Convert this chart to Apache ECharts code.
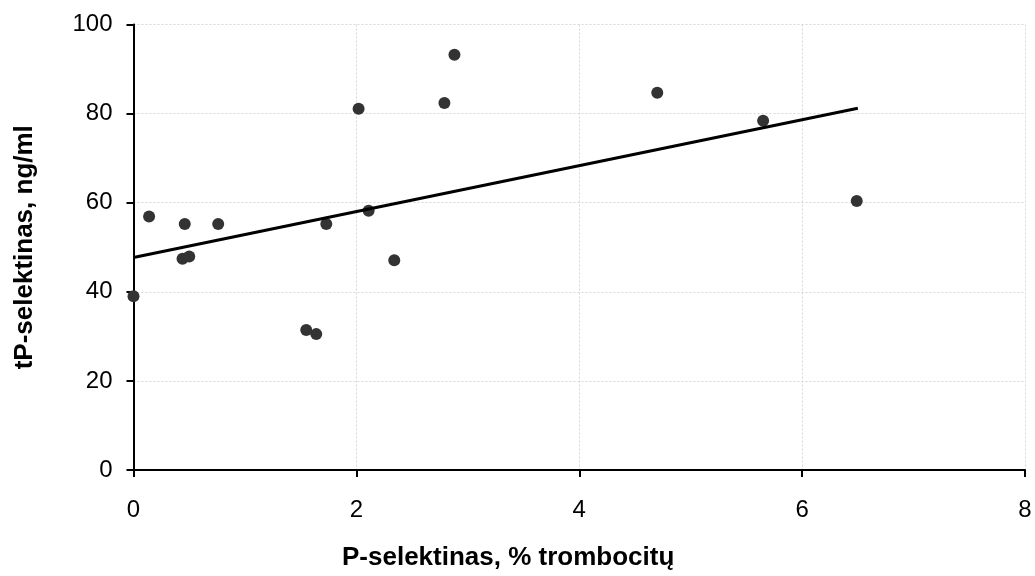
<!DOCTYPE html>
<html>
<head>
<meta charset="utf-8">
<script src="https://cdn.jsdelivr.net/npm/echarts@6/dist/echarts.min.js"></script>
<style>html,body{margin:0;padding:0;background:#fff}#c{width:1035px;height:576px}</style>
</head>
<body>
<div id="c"></div>
<script>
const xValues = [0, 0.14, 0.44, 0.46, 0.50, 0.76, 1.55, 1.64, 1.73, 2.02, 2.11, 2.34, 2.79, 2.88, 4.70, 5.65, 6.49];
const yValues = [39.0, 56.9, 47.4, 55.2, 47.9, 55.2, 31.4, 30.5, 55.2, 81.1, 58.2, 47.1, 82.4, 93.2, 84.7, 78.4, 60.4];
const trendX = [0, 6.5];
const trendY = [47.7, 81.2];
const xTitle = 'P-selektinas, % trombocitų';
const yTitle = 'tP-selektinas, ng/ml';

const font = 'Liberation Sans, Arial, sans-serif';
const chart = echarts.init(document.getElementById('c'));
chart.setOption({
  animation: false,
  backgroundColor: '#fff',
  grid: {left: 133.5, right: 10, top: 24.5, bottom: 106, containLabel: false},
  xAxis: {
    type: 'value', min: 0, max: 8, interval: 2,
    axisLine: {show: true, onZero: false, lineStyle: {color: '#000', width: 2}},
    axisTick: {show: true, inside: false, length: 7, lineStyle: {color: '#000', width: 2}},
    axisLabel: {color: '#000', fontSize: 24, fontFamily: font, margin: 28},
    splitLine: {show: true, lineStyle: {color: '#d6d6d6', type: [2, 2], width: 1}}
  },
  yAxis: {
    type: 'value', min: 0, max: 100, interval: 20,
    name: yTitle, nameLocation: 'middle', nameGap: 96,
    nameTextStyle: {color: '#000', fontSize: 26, fontWeight: 'bold', fontFamily: font},
    axisLine: {show: true, lineStyle: {color: '#000', width: 2}},
    axisTick: {show: true, inside: false, length: 7, lineStyle: {color: '#000', width: 2}},
    axisLabel: {color: '#000', fontSize: 24, fontFamily: font, margin: 21},
    splitLine: {show: true, lineStyle: {color: '#d6d6d6', type: [2, 2], width: 1}}
  },
  graphic: [{
    type: 'text', x: 342, y: 557.5,
    style: {text: xTitle, fill: '#000', font: 'bold 26px ' + font, align: 'left', verticalAlign: 'middle'}
  }],
  series: [
    {
      type: 'scatter', symbol: 'circle', symbolSize: 12,
      itemStyle: {color: '#333333', opacity: 1},
      data: xValues.map((x, i) => [x, yValues[i]]),
      z: 3
    },
    {
      type: 'line', symbol: 'none',
      lineStyle: {color: '#000', width: 3},
      data: trendX.map((x, i) => [x, trendY[i]]),
      z: 4
    }
  ]
});
</script>
</body>
</html>
